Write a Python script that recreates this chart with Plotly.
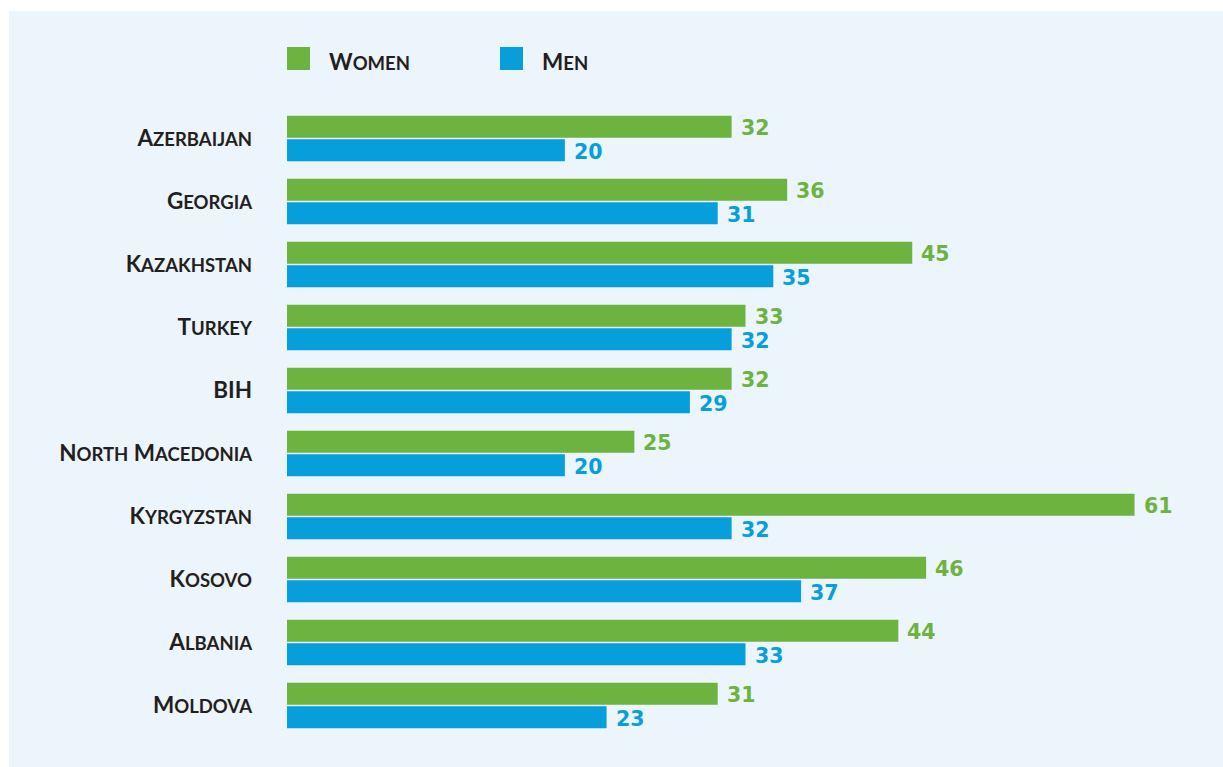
import plotly.graph_objects as go

countries = ["Azerbaijan", "Georgia", "Kazakhstan", "Turkey", "BIH",
             "North Macedonia", "Kyrgyzstan", "Kosovo", "Albania", "Moldova"]
women = [32, 36, 45, 33, 32, 25, 61, 46, 44, 31]
men = [20, 31, 35, 32, 29, 20, 32, 37, 33, 23]
series_names = ["Women", "Men"]

GREEN = "#6DB33F"
BLUE = "#069FDB"
PANEL = "#ECF4FC"
DARK = "#231F20"
FONT = "Lato"
BIG = 22.5
SMALL = 18.5


def small_caps(text, big=BIG, small=SMALL):
    out = []
    for word in text.split(" "):
        if word.isupper():
            out.append(word)
        else:
            out.append(word[0].upper() + "<span style='font-size:%spx'>%s</span>" % (small, word[1:].upper()))
    return " ".join(out)


ticktext = ["<b>%s</b>" % small_caps(c) for c in countries]

fig = go.Figure()
annotations = []
for name, vals, col, ys in [(series_names[0], women, GREEN, 11), (series_names[1], men, BLUE, -13)]:
    fig.add_trace(go.Bar(
        y=countries, x=vals, orientation="h", name=name,
        marker=dict(color=col, line=dict(width=0)),
        showlegend=False, hoverinfo="x+y",
    ))
    for c, v in zip(countries, vals):
        annotations.append(dict(x=v, y=c, xref="x", yref="y", text="<b>%d</b>" % v,
                                showarrow=False, xanchor="left", yanchor="middle",
                                xshift=7, yshift=ys,
                                font=dict(family="DejaVu Sans", size=20.5, color=col)))

# plot area in pixels: x 287..1204, y 107..737
L, R, T, B = 287, 1204, 107, 737
W, H = 1223, 767


def px_x(p):
    return (p - L) / (R - L)


def px_y(p):
    return (B - p) / (B - T)


shapes = [dict(type="rect", xref="paper", yref="paper", layer="below",
               x0=px_x(9), x1=px_x(1223), y0=px_y(767), y1=px_y(11),
               fillcolor=PANEL, line=dict(width=0))]
for i, (name, col, x0) in enumerate([(series_names[0], GREEN, 287), (series_names[1], BLUE, 500)]):
    shapes.append(dict(type="rect", xref="paper", yref="paper",
                       x0=px_x(x0), x1=px_x(x0 + 23), y0=px_y(70), y1=px_y(47),
                       fillcolor=col, line=dict(width=0)))
    annotations.append(dict(xref="paper", yref="paper", x=px_x(x0 + 40), y=px_y(61),
                            xanchor="left", yanchor="middle", showarrow=False,
                            text="<b>%s</b>" % small_caps(name),
                            font=dict(family=FONT, size=BIG, color=DARK)))

fig.update_layout(
    width=W, height=H, autosize=False,
    margin=dict(l=L, r=W - R, t=T, b=H - B, pad=0),
    paper_bgcolor="white", plot_bgcolor="rgba(0,0,0,0)",
    barmode="group", bargap=0.254, bargroupgap=0.064,
    xaxis=dict(range=[0, 66], visible=False, showgrid=False, zeroline=False),
    yaxis=dict(autorange="reversed", tickvals=countries, ticktext=ticktext,
               showgrid=False, zeroline=False, showline=False, ticks="",
               ticklabelstandoff=34,
               tickfont=dict(family=FONT, size=BIG, color=DARK)),
    shapes=shapes, annotations=annotations,
)

fig.write_html("out.html", config={"displayModeBar": False},
               post_script="document.body.style.margin='0';")
